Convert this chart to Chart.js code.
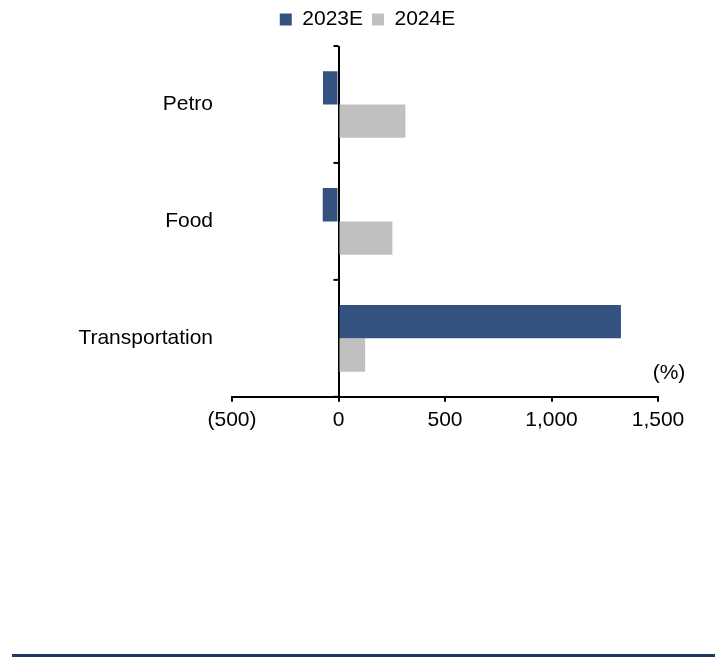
<!DOCTYPE html>
<html>
<head>
<meta charset="utf-8">
<script src="https://cdn.jsdelivr.net/npm/chart.js@4.4.1/dist/chart.umd.min.js"></script>
<style>
  body { margin: 0; background: #fff; }
  .page { position: relative; width: 715px; height: 657px; }
  .chart-box { position: absolute; left: 0; top: 0; width: 715px; height: 439px; }
  .rule { position: absolute; left: 12px; top: 654px; width: 703px; height: 3px; background: #1f3864; }
</style>
</head>
<body>
<div class="page">
  <div class="chart-box"><canvas id="growthChart"></canvas></div>
  <div class="rule"></div>
</div>
<script>
const categories = ["Petro", "Food", "Transportation"];
const growth2023E = [-73, -74, 1326];
const growth2024E = [314, 253, 125];
const xTicks = [-500, 0, 500, 1000, 1500];

Chart.defaults.font.family = '"Liberation Sans", Arial, sans-serif';
Chart.defaults.font.size = 21;
Chart.defaults.color = "#000";

// push the plot area down a bit below the legend
const legendSpacer = {
  id: "legendSpacer",
  beforeInit(chart) {
    const fit = chart.legend.fit;
    chart.legend.fit = function () {
      fit.bind(chart.legend)();
      this.height += 6;
    };
  },
};

// vertical axis sits at zero: short ticks between categories and the unit label
const zeroAxis = {
  id: "zeroAxis",
  afterDraw(chart) {
    const x = chart.scales.x;
    const y = chart.scales.y;
    const ctx = chart.ctx;
    const x0 = x.getPixelForValue(0);
    ctx.save();
    ctx.strokeStyle = "#000";
    ctx.lineWidth = 2;
    for (let i = 0; i <= categories.length; i++) {
      const py = y.getPixelForValue(i - 0.5);
      ctx.beginPath();
      ctx.moveTo(x0 - 5, py);
      ctx.lineTo(x0, py);
      ctx.stroke();
    }
    ctx.fillStyle = "#000";
    ctx.font = '21px "Liberation Sans", Arial, sans-serif';
    ctx.textAlign = "center";
    ctx.textBaseline = "middle";
    ctx.fillText("(%)", x.right + 11, x.top - 24);
    ctx.restore();
  },
};

const growthChart = new Chart(document.getElementById("growthChart"), {
  type: "bar",
  data: {
    labels: categories,
    datasets: [
      {
        label: "2023E",
        data: growth2023E,
        backgroundColor: "#34527f",
        categoryPercentage: 0.57,
        barPercentage: 1.0,
      },
      {
        label: "2024E",
        data: growth2024E,
        backgroundColor: "#c0c0c0",
        categoryPercentage: 0.57,
        barPercentage: 1.0,
      },
    ],
  },
  options: {
    indexAxis: "y",
    responsive: true,
    maintainAspectRatio: false,
    animation: false,
    layout: {
      padding: { left: 77, right: 57, top: 0, bottom: 0 },
    },
    plugins: {
      legend: {
        position: "top",
        labels: {
          boxWidth: 12,
          boxHeight: 12,
          padding: 9,
          font: { size: 21 },
        },
      },
      tooltip: { enabled: false },
    },
    scales: {
      x: {
        min: -500,
        max: 1500,
        afterBuildTicks: (scale) => {
          scale.ticks = xTicks.map((v) => ({ value: v }));
        },
        ticks: {
          padding: 6,
          maxRotation: 0,
          callback: (value) => {
            const s = Math.abs(value).toLocaleString("en-US");
            return value < 0 ? "(" + s + ")" : s;
          },
        },
        grid: {
          color: (ctx) => (ctx.tick && ctx.tick.value === 0 ? "#000" : "rgba(0,0,0,0)"),
          lineWidth: 2,
          tickColor: "#000",
          tickLength: 5,
          tickWidth: 2,
        },
        border: { display: true, color: "#000", width: 2 },
      },
      y: {
        afterFit: (scale) => {
          scale.width = 155;
        },
        ticks: { padding: 19 },
        grid: { display: false, drawTicks: false },
        border: { display: false },
      },
    },
  },
  plugins: [legendSpacer, zeroAxis],
});
</script>
</body>
</html>
